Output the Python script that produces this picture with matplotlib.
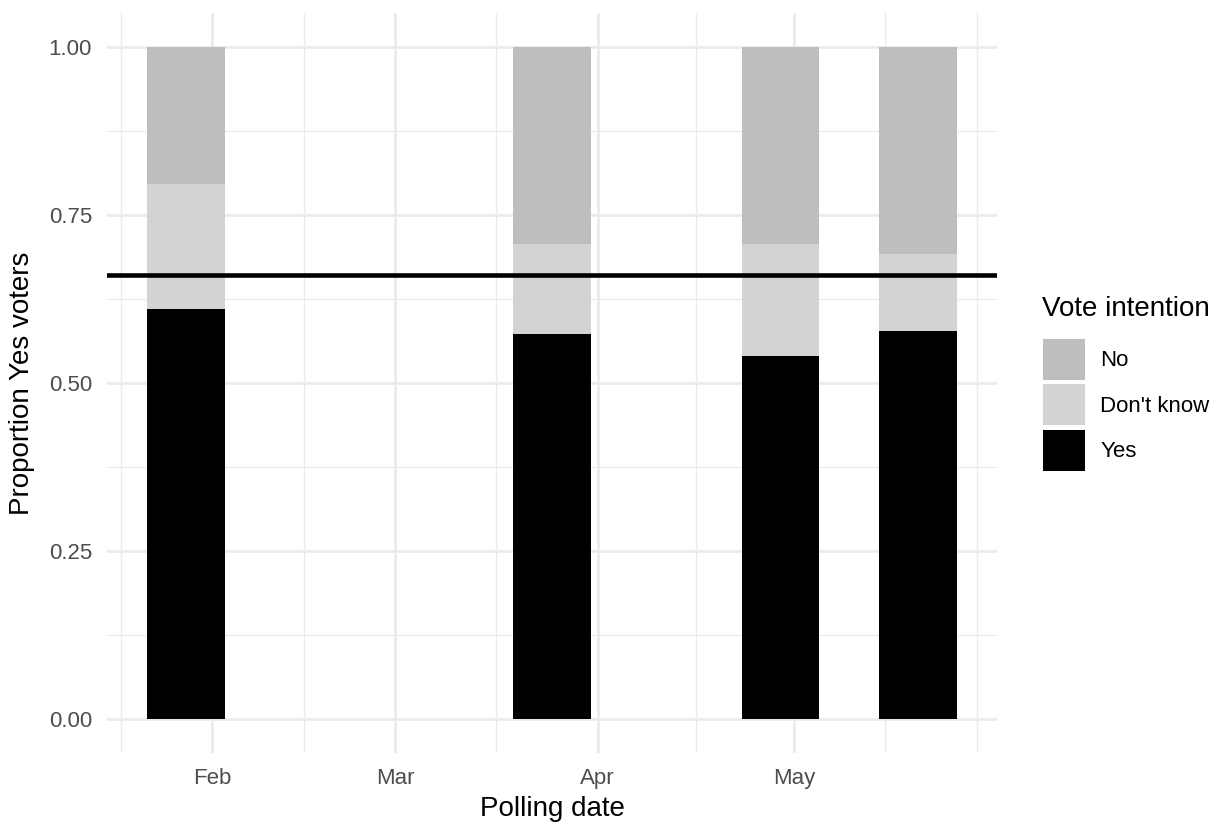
import numpy as np
import matplotlib
matplotlib.use("Agg")
import matplotlib.pyplot as plt
import matplotlib.dates as mdates
from matplotlib.patches import Patch, Rectangle
from matplotlib.legend_handler import HandlerPatch

plt.rcParams['font.family'] = ['Liberation Sans', 'DejaVu Sans']

# Poll data
poll_dates = ['2014-01-28', '2014-03-25', '2014-04-29', '2014-05-20']
yes = [0.610, 0.573, 0.540, 0.578]
dont_know = [0.186, 0.134, 0.167, 0.114]
no = [0.204, 0.293, 0.293, 0.308]
threshold = 0.66

month_breaks = ['2014-02-01', '2014-03-01', '2014-04-01', '2014-05-01']
month_labels = ['Feb', 'Mar', 'Apr', 'May']
y_breaks = [0.0, 0.25, 0.5, 0.75, 1.0]
y_labels = ['0.00', '0.25', '0.50', '0.75', '1.00']
legend_labels = ['No', "Don't know", 'Yes']

col_yes, col_dk, col_no = 'black', '#D3D3D3', '#BEBEBE'
grid_col = '#EBEBEB'


def full_key(legend, orig_handle, xdescent, ydescent, width, height, fontsize):
  """Legend key that fills the whole handle box (ggplot style)."""
  return Rectangle((-xdescent, -ydescent), width, height)


fig = plt.figure(figsize=(12.2, 8.24), dpi=100)
ax = fig.add_axes([107 / 1220, (824 - 752.6) / 824, 890 / 1220, 739.2 / 824])

x = mdates.date2num(np.array(poll_dates, dtype='datetime64[D]'))
yes = np.array(yes)
dont_know = np.array(dont_know)
no = np.array(no)
width = 11.8  # days

ax.bar(x, yes, width=width, color=col_yes, linewidth=0)
ax.bar(x, dont_know, bottom=yes, width=width, color=col_dk, linewidth=0)
ax.bar(x, no, bottom=yes + dont_know, width=width, color=col_no, linewidth=0)
ax.axhline(threshold, color='black', lw=3.3, zorder=5)

# ggplot-like limits: 5% expansion
ax.margins(x=0.05)
ax.set_ylim(-0.05, 1.05)
lo, hi = ax.get_xlim()

# major and minor breaks, minor computed the ggplot way
xb = list(mdates.date2num(np.array(month_breaks, dtype='datetime64[D]')))
bd = xb[1] - xb[0]
ext = list(xb)
if lo < ext[0]:
  ext = [ext[0] - bd] + ext
if hi > ext[-1]:
  ext = ext + [ext[-1] + bd]
x_minor = ext + [(a + b) / 2 for a, b in zip(ext[:-1], ext[1:])]
x_minor = [v for v in x_minor if lo <= v <= hi and v not in xb]

ax.set_xticks(xb)
ax.set_xticklabels(month_labels)
ax.set_xticks(x_minor, minor=True)
ax.set_yticks(y_breaks)
ax.set_yticklabels(y_labels)
ax.set_yticks([0.125, 0.375, 0.625, 0.875], minor=True)

ax.set_axisbelow(True)
ax.grid(which='major', color=grid_col, lw=2.0)
ax.grid(which='minor', color=grid_col, lw=1.0)
for s in ax.spines.values():
  s.set_visible(False)
ax.tick_params(which='both', length=0)
ax.tick_params(axis='both', labelsize=16, labelcolor='#4D4D4D', pad=10.8)

ax.set_xlabel('Polling date', fontsize=20, va='top')
ax.xaxis.set_label_coords(0.5, -0.0587)
ax.set_ylabel('Proportion Yes voters', fontsize=20)
ax.yaxis.set_label_coords(-0.0809, 0.5)

# legend
handles = [Patch(facecolor=c, edgecolor='none') for c in (col_no, col_dk, col_yes)]
fig.text(1042 / 1220, 1 - 296 / 824, 'Vote intention', fontsize=20, va='top', ha='left')
fig.legend(handles, legend_labels, loc='upper left',
           bbox_to_anchor=(1043 / 1220, 1 - 339 / 824), frameon=False,
           fontsize=16, borderpad=0, borderaxespad=0,
           handlelength=1.875, handleheight=2.46, labelspacing=0.2,
           handletextpad=0.71,
           handler_map={Patch: HandlerPatch(patch_func=full_key)})

plt.savefig('out.png', dpi=100)
